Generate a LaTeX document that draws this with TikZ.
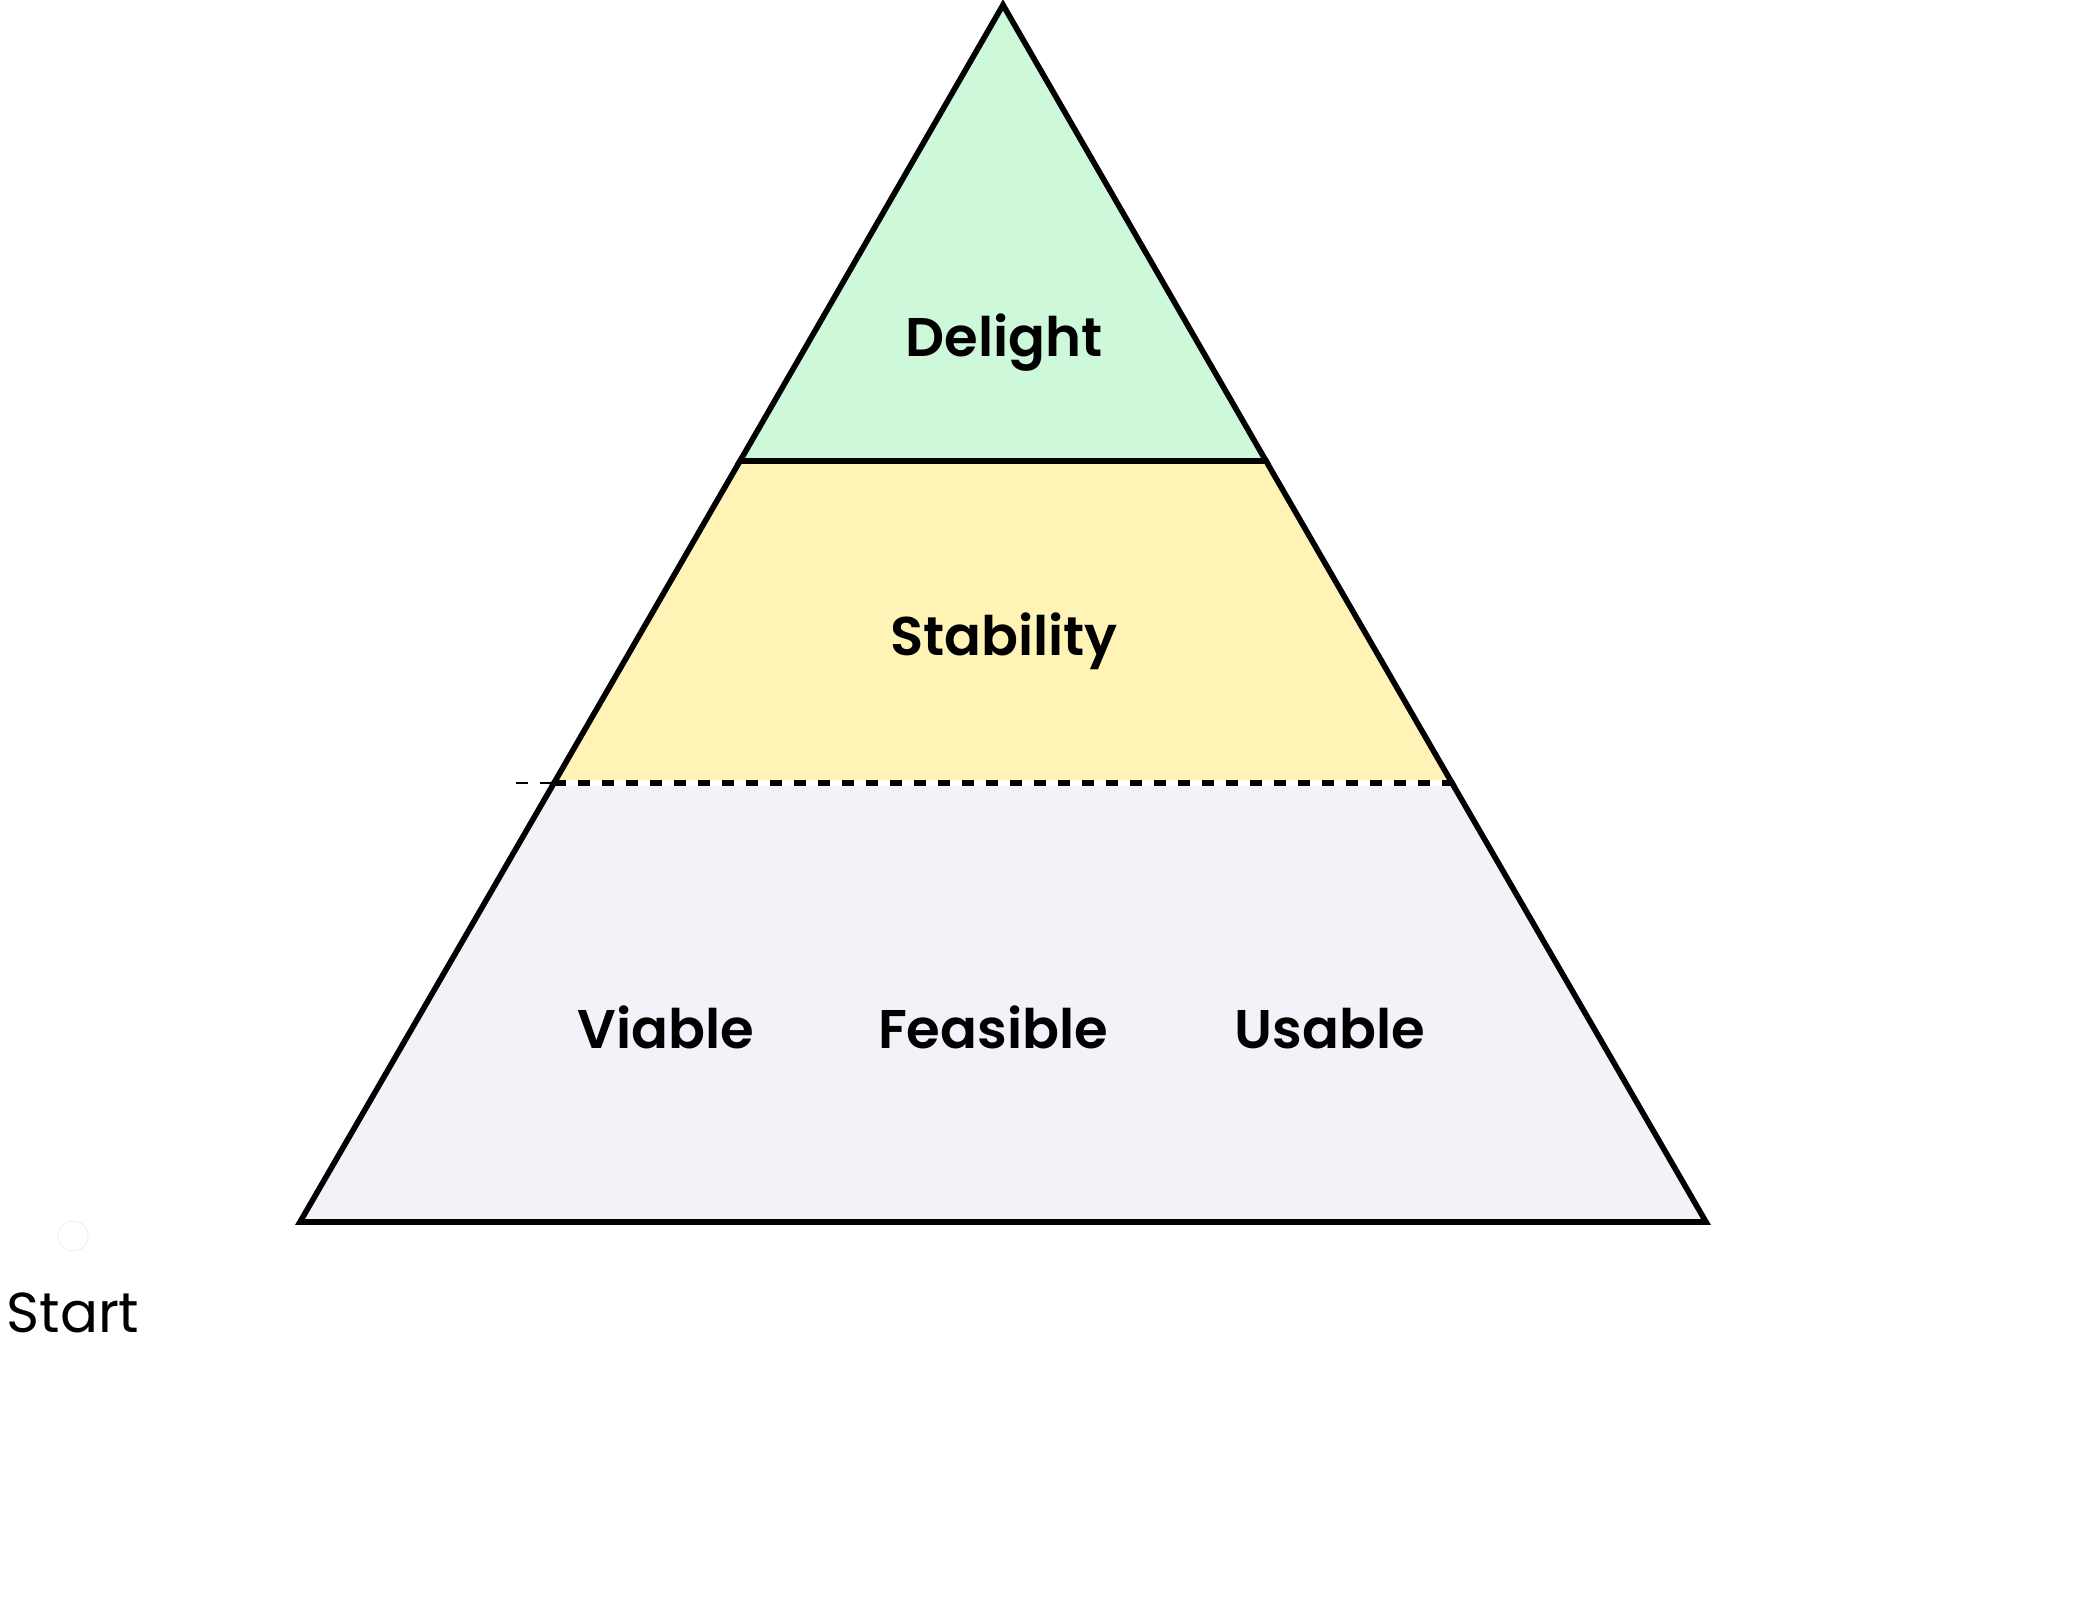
\documentclass[tikz,border=0pt]{standalone}
\usepackage{fontspec}
\setmainfont{Poppins}[BoldFont={Poppins SemiBold}]
\usetikzlibrary{positioning}

\definecolor{delightgreen}{RGB}{205,248,217}
\definecolor{stabyellow}{RGB}{255,244,181}
\definecolor{basegray}{RGB}{242,243,249}

\tikzstyle{tier} = [draw=black, line width=3.2pt, line join=miter]
\tikzstyle{label} = [font=\fontsize{31}{38}\selectfont\bfseries, text=black]
\tikzstyle{hidden} = [font=\fontsize{31}{38}\selectfont, text=white, anchor=west]
\tikzstyle{divider} = [dash pattern=on 0.24cm off 0.24cm, line width=3.4pt]

\begin{document}
\begin{tikzpicture}
\useasboundingbox (0,0) rectangle (41.7,32.28);

% corner points of the pyramid
\coordinate (apex) at (20.06,32.18);
\coordinate (bl) at (6.0,7.84);
\coordinate (br) at (34.12,7.84);
\coordinate (l1) at (14.8,23.06);
\coordinate (r1) at (25.32,23.06);
\coordinate (l2) at (11.08,16.62);
\coordinate (r2) at (29.04,16.62);
\coordinate (dstart) at (10.32,16.62);
\coordinate (wstart) at (0.3,16.62);
\coordinate (wend) at (41.7,16.62);

% side texts (white)
\node (adv) [hidden] at (2.6,18.24) {Advance Level};
\node (base) [hidden] at (2.74,15.18) {Baseline};
\node (team) [hidden] at (34.76,17.88) {Small Team};
\node (stake) [hidden] at (32.24,15.02) {All Stakeholders};
\draw [divider, white, line width=1.6pt] (wstart) -- (wend);

% tiers
\filldraw [tier, fill=basegray] (l2) -- (r2) -- (br) -- (bl) -- cycle;
\filldraw [tier, fill=stabyellow] (l1) -- (r1) -- (r2) -- (l2) -- cycle;
\filldraw [tier, fill=delightgreen] (apex) -- (r1) -- (l1) -- cycle;
\draw [white, line width=3.4pt] (l2) -- (r2);
\draw [divider, black, line width=1.6pt] (dstart) -- (l2);
\draw [divider, black] (l2) -- (r2);

\node (delight) [label] at (20.08,25.42) {Delight};
\node (stability) [label] at (20.08,19.46) {Stability};
\node (viable) [label, anchor=base] at (13.32,11.3) {Viable};
\node (feasible) [label, anchor=base] at (19.86,11.3) {Feasible};
\node (usable) [label, anchor=base] at (26.6,11.3) {Usable};

% start marker
\draw [gray!12, line width=0.6pt] (1.46,7.56) circle (0.3);
\node (start) [font=\fontsize{32}{38}\selectfont] at (1.46,6.02) {Start};
\end{tikzpicture}
\end{document}
